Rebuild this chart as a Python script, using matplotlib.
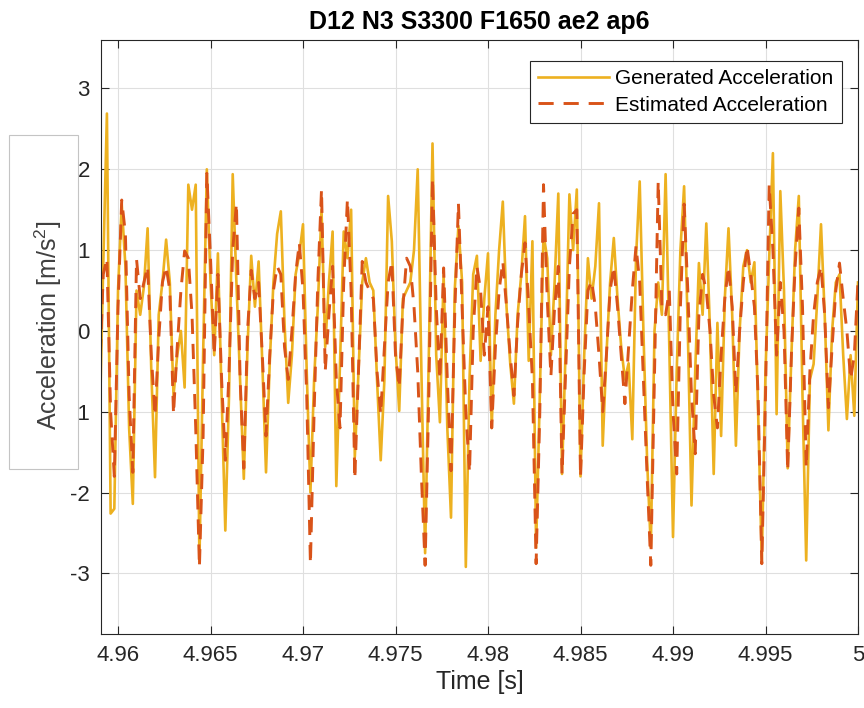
import matplotlib
matplotlib.use('Agg')
import matplotlib.pyplot as plt
import numpy as np
from matplotlib.patches import Rectangle

plt.rcParams['font.family'] = ['Liberation Sans', 'DejaVu Sans']
plt.rcParams['mathtext.fontset'] = 'custom'
plt.rcParams['mathtext.rm'] = 'Liberation Sans'
plt.rcParams['mathtext.it'] = 'Liberation Sans:italic'
plt.rcParams['axes.unicode_minus'] = False

# sample times: start and step (s)
t_start = 4.959
t_step = 0.0002

# generated acceleration, m/s^2
gen_acc = [
    -1.3, 0.8, 2.69, -2.26, -2.2, 0.5, 1.57, 0.8, -1.2, -2.14,
    0.5, 0.2, 0.55, 1.27, -0.5, -1.81, 0.2, 0.6, 1.13, 0.6,
    -0.8, -0.3, 0.0, -0.7, 1.81, 1.5, 1.81, -2.85, -0.3, 2.0,
    0.6, -0.3, 0.96, -0.8, -2.47, -0.8, 1.94, 0.6, -0.6, -1.83,
    -0.2, 0.93, 0.3, 0.86, -0.4, -1.75, -0.4, 0.6, 1.2, 1.48,
    0.1, -0.89, -0.3, 0.7, 0.95, 1.32, -0.5, -2.0, -0.6, 0.3,
    1.5, -0.2, 0.6, 1.23, -1.92, -0.4, 1.23, 0.9, 1.5, -1.56,
    -0.5, 0.6, 0.9, 0.6, 0.5, -0.6, -1.6, -0.6, 1.67, 1.11,
    -0.2, -0.99, 0.4, 0.5, 0.6, 1.0, 2.0, -0.5, -2.75, -0.3,
    2.32, -0.3, -1.13, 0.7, -1.2, -2.31, 0.5, 1.3, 0.6, -2.92,
    -0.6, 0.7, 0.93, -0.37, 0.4, 0.96, -1.2, 0.2, 1.0, 1.6,
    0.3, -0.4, -0.9, 0.2, 0.7, 1.42, -0.37, 1.11, -2.68, -0.8,
    1.2, 0.9, -0.3, 0.6, 1.7, -1.77, -0.2, 1.69, 1.0, 1.75,
    -1.8, -0.3, 0.9, 0.4, 0.8, 1.58, -1.42, -0.3, 0.6, 1.15,
    0.4, -0.2, -0.6, -0.4, -1.34, 0.9, 1.85, 0.0, -1.6, -2.68,
    0.0, 0.6, 0.2, 1.94, -0.2, -2.55, -0.5, 1.0, 1.79, 0.0,
    -2.16, -0.5, 0.84, 0.2, 1.33, 0.0, -1.77, 0.1, -1.3, 0.4,
    1.27, 0.2, -1.42, 0.0, 0.8, 1.0, 0.6, 0.85, -1.0, -2.85,
    -0.5, 0.9, 2.2, -1.03, 1.73, 0.5, -1.7, -0.3, 1.0, 1.67,
    -0.8, -2.84, -0.6, -0.41, 0.4, 1.32, 0.2, -1.23, 0.0, 0.6,
    0.7, -0.3, -1.09, -0.3, -1.05, 0.6,
]

# estimated acceleration, m/s^2
est_acc = [
    -0.6, 0.7, 0.9, -1.0, -1.8, 0.3, 1.62, 1.2, -0.8, -1.75,
    0.89, 0.4, 0.6, 0.8, -0.3, -1.05, -0.1, 0.6, 0.8, 0.5,
    -1.03, -0.2, 0.5, 0.99, 0.9, 0.2, -1.2, -2.92, -1.3, 1.95,
    0.9, -0.3, 0.7, -0.6, -1.6, -0.5, 1.0, 1.58, -0.6, -1.7,
    0.0, 0.75, 0.4, 0.6, -0.3, -1.3, -0.3, 0.5, 0.8, 0.7,
    -0.2, -0.6, 0.0, 0.7, 1.09, 0.5, -0.8, -2.88, -1.0, 0.6,
    1.75, -0.5, 0.2, 0.8, -0.6, -1.2, 0.6, 1.63, 0.5, -1.83,
    -0.5, 0.86, 0.6, 0.5, 0.4, -0.5, -1.03, -0.2, 0.6, 0.86,
    -0.3, -0.7, 0.3, 0.9, 0.8, 0.3, -0.5, -1.8, -2.9, -0.8,
    1.89, 0.3, -0.6, 0.78, -0.6, -1.73, 0.2, 1.58, 0.3, -1.0,
    -1.75, 0.0, 0.8, 0.5, -0.3, 0.3, -1.2, -0.2, 0.5, 0.86,
    0.3, -0.3, -0.8, 0.1, 0.7, 1.09, 0.3, -0.6, -2.88, -1.0,
    1.81, 0.4, -0.56, 0.3, 0.8, -1.77, -0.5, 0.8, 1.45, 1.5,
    -1.81, -0.5, 0.5, 0.62, 0.3, -0.3, -1.0, -0.3, 0.5, 0.8,
    0.3, -0.3, -0.9, -0.2, 0.5, 1.05, 0.6, -0.6, -1.8, -2.9,
    -0.5, 1.85, 0.3, 0.2, 0.5, -1.0, -1.77, 0.3, 1.57, 0.5,
    -0.8, -1.52, 0.2, 0.7, 0.5, 0.0, -0.8, -1.2, -0.3, 0.4,
    0.8, 0.3, -0.78, 0.0, 0.6, 1.05, 0.7, 0.3, -0.8, -2.88,
    -0.8, 1.81, 1.0, -0.3, 0.6, 0.0, -1.73, -0.3, 0.8, 1.52,
    0.3, -1.69, -0.5, 0.2, 0.6, 0.8, 0.2, -0.95, -0.2, 0.5,
    0.84, 0.4, 0.0, -0.6, -0.3, 0.62,
]

xticks = [4.96, 4.965, 4.97, 4.975, 4.98, 4.985, 4.99, 4.995, 5.0]
xtick_labels = ['4.96', '4.965', '4.97', '4.975', '4.98', '4.985', '4.99', '4.995', '5']
yticks = [-3, -2, -1, 0, 1, 2, 3]
ytick_labels = ['-3', '-2', '-1', '0', '1', '2', '3']

t = t_start + t_step * np.arange(len(gen_acc))

dark = '#262626'
W, H = 864, 708
fig = plt.figure(figsize=(W / 100, H / 100), dpi=100)
ax = fig.add_axes([101 / W, 1 - 634 / H, 757 / W, 594 / H])

ax.plot(t, gen_acc, color='#EDB120', lw=1.9, label='Generated Acceleration')
ax.plot(t, est_acc, color='#D95319', lw=2.1, dashes=(5.2, 3.4), label='Estimated Acceleration')

ax.set_xlim(4.95908, 5.0)
ax.set_ylim(-3.75, 3.6)
ax.set_xticks(xticks)
ax.set_xticklabels(xtick_labels)
ax.set_yticks(yticks)
ax.set_yticklabels(ytick_labels)
ax.grid(True, color='#dfdfdf', lw=0.8)
ax.set_axisbelow(True)
ax.tick_params(direction='in', length=5.5, width=0.8, colors=dark,
               top=True, right=True, labelsize=16, pad=8)
for s in ax.spines.values():
    s.set_color(dark)
    s.set_linewidth(0.8)

ax.set_title('D12 N3 S3300 F1650 ae2 ap6', fontsize=18, fontweight='bold', pad=8)
ax.set_xlabel('Time [s]', fontsize=18, color=dark, labelpad=3)

# y label sits in a white box that hides the minus of -1
box = Rectangle((9 / W, 1 - 469 / H), 69 / W, 334 / H, transform=fig.transFigure,
                facecolor='white', edgecolor='#c4c4c4', lw=0.8, zorder=5)
fig.add_artist(box)
fig.text(48 / W, 1 - 325 / H, 'Acceleration [m/s$^2$]', rotation=90,
         ha='center', va='center', fontsize=18, color='#404040', zorder=6)

leg = ax.legend(loc='upper right', bbox_to_anchor=(842 / W, 1 - 61 / H),
                bbox_transform=fig.transFigure, borderaxespad=0, fontsize=15,
                fancybox=False, framealpha=1, edgecolor=dark,
                handlelength=3.4, handletextpad=0.3, labelspacing=0.35, borderpad=0.4)
leg.get_frame().set_linewidth(0.8)

fig.savefig('out.png', dpi=100)
